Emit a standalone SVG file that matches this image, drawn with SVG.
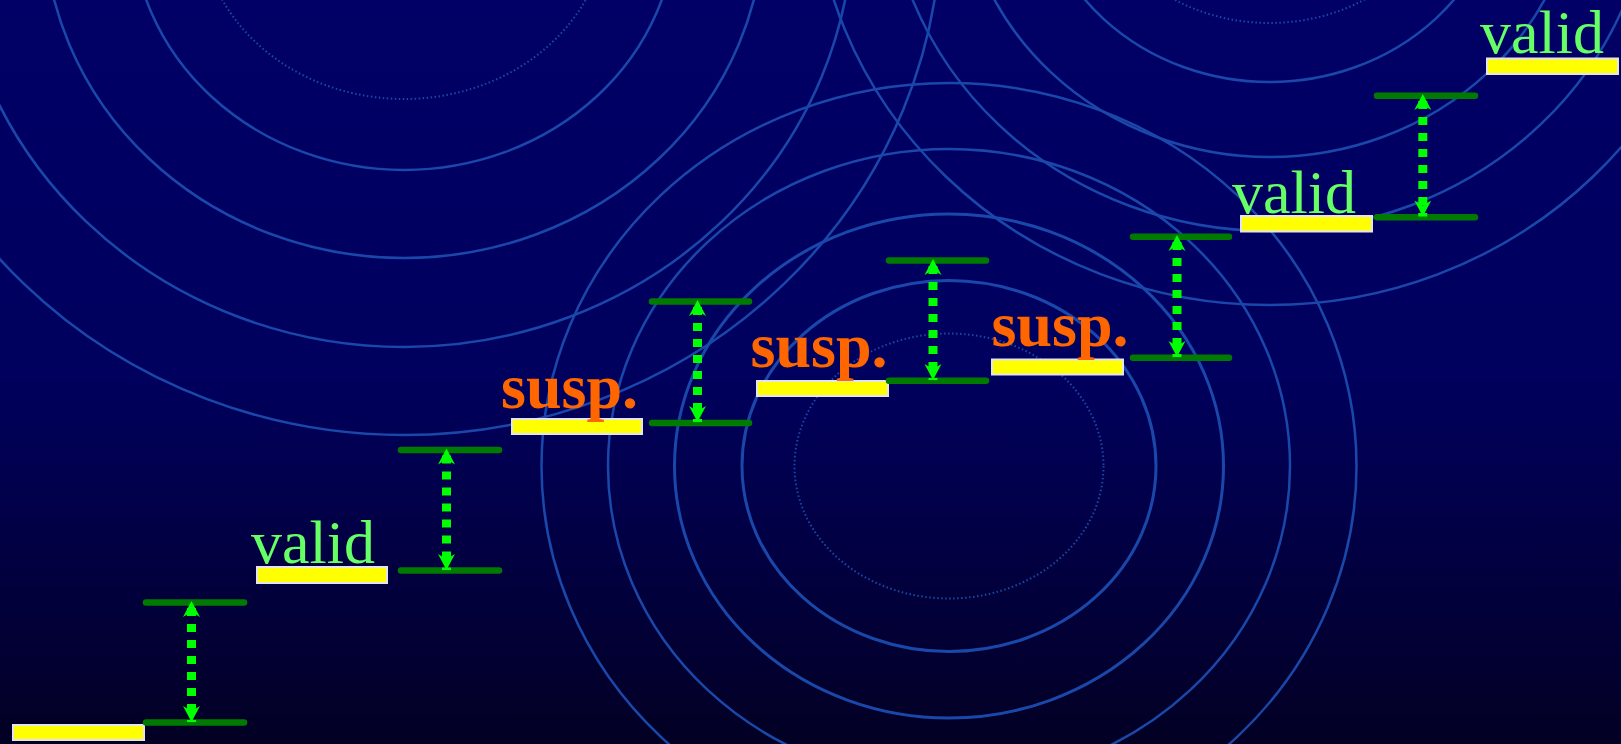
<svg xmlns="http://www.w3.org/2000/svg" width="1621" height="744" viewBox="0 0 1621 744">
<defs>
<linearGradient id="bg" x1="0" y1="0" x2="0" y2="1">
<stop offset="0" stop-color="#000066"/>
<stop offset="0.5" stop-color="#00005e"/>
<stop offset="1" stop-color="#030024"/>
</linearGradient>
<marker id="ah" viewBox="-17 -9 18 18" refX="0" refY="0" markerWidth="18" markerHeight="18" markerUnits="userSpaceOnUse" orient="auto-start-reverse">
<path d="M0,0 L-16,-8.5 L-11,0 L-16,8.5 Z" fill="#00ff00"/>
</marker>
<style>
.ring{fill:none;stroke:#1a48aa;stroke-width:2.5}
.ring.thick{stroke-width:3}
.dot{fill:none;stroke:#1a48aa;stroke-width:2;stroke-dasharray:1.5 2.5}
.bar{fill:#ffff00;stroke:#e4e4ee;stroke-width:2}
.lvl{stroke:#007a00;stroke-width:6.5;stroke-linecap:round}
.arr{fill:none;stroke:#00ff00;stroke-width:9;stroke-dasharray:8 8;stroke-dashoffset:9;marker-start:url(#ah);marker-end:url(#ah)}
.valid{font-family:"Liberation Serif","Times New Roman",serif;font-size:62px;fill:#66ff66}
.susp{font-family:"Liberation Serif","Times New Roman",serif;font-size:64px;font-weight:bold;fill:#ff6600}
</style>
</defs>
<rect x="0" y="0" width="1621" height="744" fill="url(#bg)"/>
<g id="rings">
<ellipse class="dot" cx="404" cy="-80" rx="203" ry="179"/>
<ellipse class="ring" cx="404" cy="-80" rx="272" ry="250"/>
<ellipse class="ring" cx="404" cy="-80" rx="360" ry="338"/>
<ellipse class="ring" cx="404" cy="-80" rx="449" ry="427"/>
<ellipse class="ring" cx="404" cy="-80" rx="537" ry="515"/>
<ellipse class="dot" cx="949" cy="466" rx="154.5" ry="132.5"/>
<ellipse class="ring thick" cx="949" cy="466" rx="207" ry="185.5"/>
<ellipse class="ring thick" cx="949" cy="466" rx="274.5" ry="252"/>
<ellipse class="ring" cx="949" cy="466" rx="341" ry="317"/>
<ellipse class="ring" cx="949" cy="466" rx="407.5" ry="383"/>
<ellipse class="dot" cx="1269.5" cy="-132" rx="180" ry="155"/>
<ellipse class="ring" cx="1269.5" cy="-132" rx="234" ry="214"/>
<ellipse class="ring" cx="1269.5" cy="-132" rx="309" ry="289"/>
<ellipse class="ring" cx="1269.5" cy="-132" rx="383" ry="363"/>
<ellipse class="ring" cx="1269.5" cy="-132" rx="457" ry="437"/>
</g>
<g id="step-1"><rect class="bar" x="13" y="725" width="131" height="15"/></g>
<g id="step-2"><rect class="bar" x="257" y="567" width="130" height="16"/><text class="valid" x="251" y="563">valid</text></g>
<g id="step-3"><rect class="bar" x="512" y="419" width="130" height="15"/><text class="susp" x="501" y="408">susp.</text></g>
<g id="step-4"><rect class="bar" x="757" y="381" width="131" height="15"/><text class="susp" x="750.5" y="367">susp.</text></g>
<g id="step-5"><rect class="bar" x="992" y="359.5" width="131" height="15"/><text class="susp" x="991.5" y="345.5">susp.</text></g>
<g id="step-6"><rect class="bar" x="1241" y="216" width="131" height="15.5"/><text class="valid" x="1232" y="213">valid</text></g>
<g id="step-7"><rect class="bar" x="1487" y="58.5" width="131" height="15.5"/><text class="valid" x="1480" y="53">valid</text></g>
<g id="gap-1"><line class="lvl" x1="146" y1="602.5" x2="244" y2="602.5"/><line class="lvl" x1="146" y1="722.5" x2="244" y2="722.5"/></g>
<g id="gap-2"><line class="lvl" x1="401" y1="450" x2="499" y2="450"/><line class="lvl" x1="401" y1="570.5" x2="499" y2="570.5"/></g>
<g id="gap-3"><line class="lvl" x1="652" y1="301.5" x2="749" y2="301.5"/><line class="lvl" x1="652" y1="423" x2="749" y2="423"/></g>
<g id="gap-4"><line class="lvl" x1="889" y1="260.5" x2="986" y2="260.5"/><line class="lvl" x1="889" y1="380.7" x2="986" y2="380.7"/></g>
<g id="gap-5"><line class="lvl" x1="1133" y1="236.7" x2="1229" y2="236.7"/><line class="lvl" x1="1133" y1="357.7" x2="1229" y2="357.7"/></g>
<g id="gap-6"><line class="lvl" x1="1377" y1="95.7" x2="1475" y2="95.7"/><line class="lvl" x1="1377" y1="217.3" x2="1475" y2="217.3"/></g>
<g id="connectors">
<path class="arr" d="M191.5,601 L191.5,722"/>
<path class="arr" d="M446.5,448.5 L446.5,570"/>
<path class="arr" d="M697.5,300 L697.5,422"/>
<path class="arr" d="M933,259 L933,380"/>
<path class="arr" d="M1177,235 L1177,357"/>
<path class="arr" d="M1422.8,94 L1422.8,216.5"/>
</g>
</svg>
